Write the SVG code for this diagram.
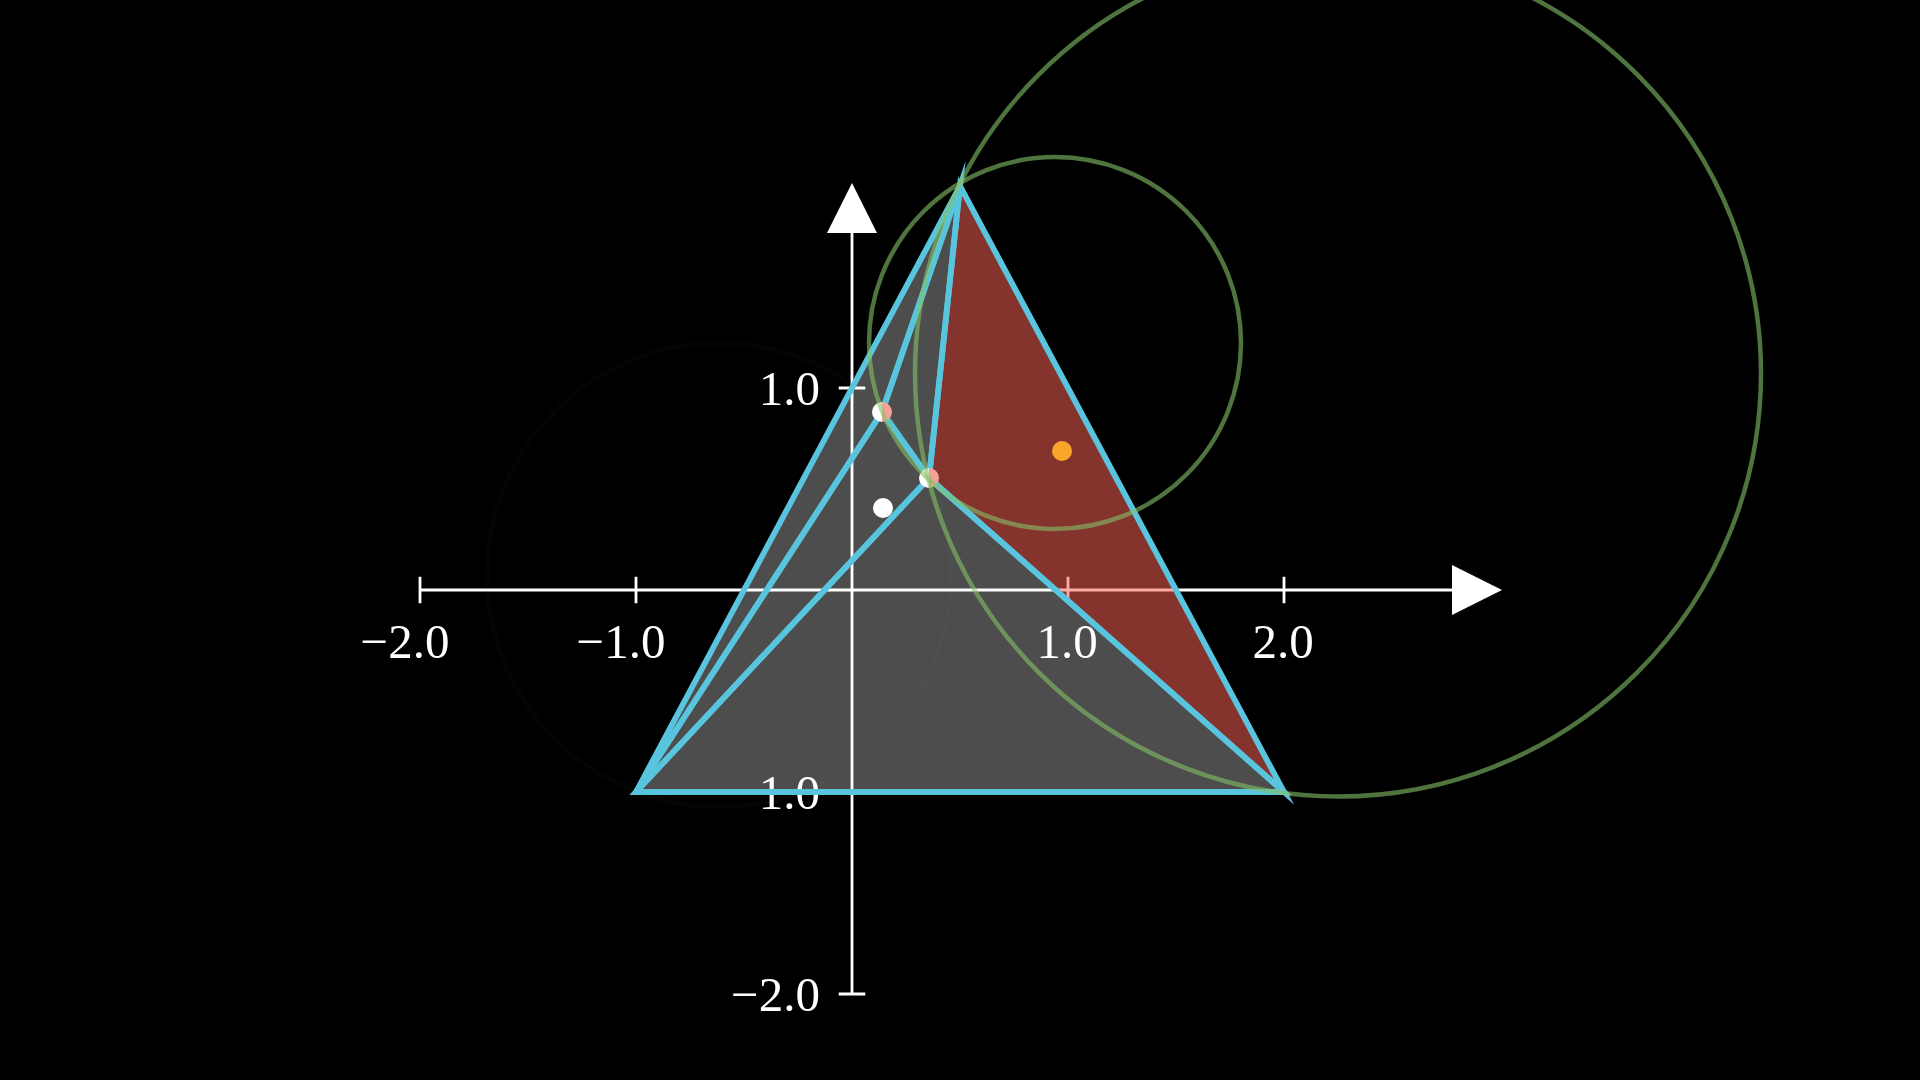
<svg xmlns="http://www.w3.org/2000/svg" width="1920" height="1080" viewBox="0 0 1920 1080">
<style>
.axis{stroke:#fff;stroke-width:2.8;fill:none}
.tip{fill:#fff}
.lbl{font-family:'Liberation Serif','Times New Roman',serif;font-size:49px;fill:#fff}
.xl{text-anchor:middle}
.yl{text-anchor:end}
.tri{fill:none;stroke:#58C4DD;stroke-width:5.8;stroke-linejoin:miter;stroke-miterlimit:10}
.circ{fill:none;stroke:#83C167;stroke-width:4.5;stroke-opacity:0.6}
</style>
<rect width="1920" height="1080" fill="#000"/>
<g id="fills">
<polygon points="636,792 1284,792 929,478 960,186" fill="#4d4d4d"/>
</g>
<g id="axes">
<line class="axis" x1="420" y1="590" x2="1455" y2="590"/>
<polygon class="tip" points="1452,565 1502,590 1452,615"/>
<line class="axis" x1="852" y1="994" x2="852" y2="230"/>
<polygon class="tip" points="827,233 852,183 877,233"/>
<path class="axis" d="M420,576.7V603.3M636,576.7V603.3M1068,576.7V603.3M1284,576.7V603.3M838.7,388H865.3M838.7,792H865.3M838.7,994H865.3"/>
<text class="lbl xl" font-family="Liberation Serif, serif" x="405" y="658">−2.0</text>
<text class="lbl xl" font-family="Liberation Serif, serif" x="621" y="658">−1.0</text>
<text class="lbl xl" font-family="Liberation Serif, serif" x="1067" y="658">1.0</text>
<text class="lbl xl" font-family="Liberation Serif, serif" x="1283" y="658">2.0</text>
<text class="lbl yl" font-family="Liberation Serif, serif" x="820" y="405">1.0</text>
<text class="lbl yl" font-family="Liberation Serif, serif" x="820" y="809">1.0</text>
<text class="lbl yl" font-family="Liberation Serif, serif" x="820" y="1011">−2.0</text>
</g>
<g id="red-triangle">
<polygon points="960,186 929,478 1284,792" fill="#FC6255" fill-opacity="0.53"/>
</g>
<g id="connectors">
<polygon id="t1" class="tri" points="636,792 882,412 960,186"/>
<polygon id="t2" class="tri" points="636,792 882,412 929,478"/>
<polygon id="t3" class="tri" points="882,412 929,478 960,186"/>
<polygon id="t4" class="tri" points="636,792 929,478 1284,792"/>
<polygon id="t5" class="tri" points="929,478 1284,792 960,186"/>
</g>
<g id="dotA">
<path d="M882,402A10,10 0 0,0 882,422Z" fill="#fff"/>
<path d="M882,402A10,10 0 0,1 882,422Z" fill="#F4A29A"/>
</g>
<g id="dotB">
<path d="M929,468A10,10 0 0,0 929,488Z" fill="#fff"/>
<path d="M929,468A10,10 0 0,1 929,488Z" fill="#F4A29A"/>
</g>
<g id="dotNew"><circle cx="883" cy="508" r="10" fill="#fff"/></g>
<g id="dotOrange"><circle cx="1062" cy="451" r="10" fill="#F9A62A"/></g>
<g id="circles">
<circle class="circ" cx="719" cy="575" r="232" style="stroke-opacity:0.025"/>
<circle class="circ" cx="1055" cy="343" r="186"/>
<circle class="circ" cx="1338" cy="373.5" r="423"/>
</g>
</svg>
